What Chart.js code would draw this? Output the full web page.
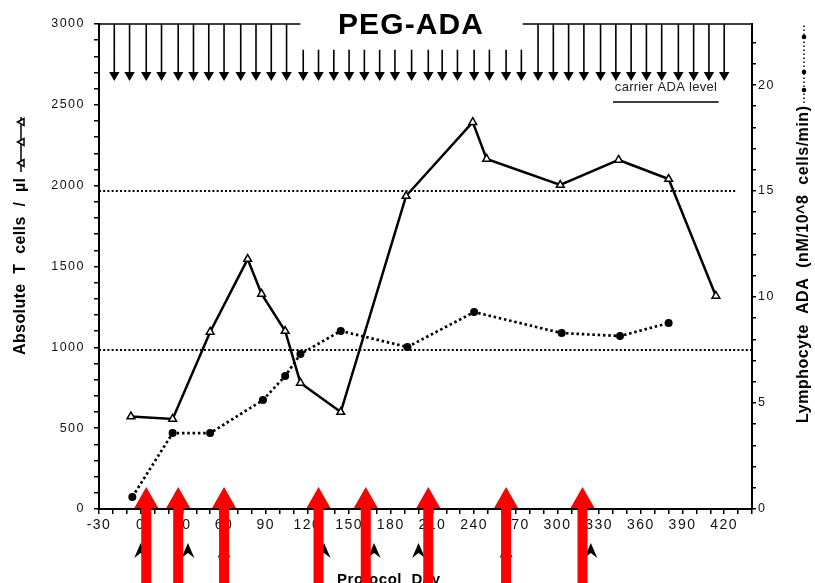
<!DOCTYPE html>
<html><head><meta charset="utf-8">
<script src="https://cdn.jsdelivr.net/npm/chart.js@4/dist/chart.umd.min.js"></script>
<style>html,body{margin:0;padding:0;background:#fff;overflow:hidden}</style>
</head><body>
<canvas id="c" width="815" height="583"></canvas>
<script>
// ---------- data ----------
const tcellDays   = [-7, 23, 50, 77, 87, 104, 115, 144, 191, 239, 249, 302, 344, 380, 414];
const tcellCounts = [572, 557, 1095, 1546, 1330, 1101, 780, 600, 1936, 2393, 2165, 2004, 2159, 2041, 1318];
const adaDays     = [-6, 23, 50, 88, 104, 115, 144, 192, 240, 303, 345, 380];
const adaLevels   = [0.57, 3.58, 3.58, 5.14, 6.27, 7.31, 8.40, 7.64, 9.29, 8.30, 8.16, 8.77];
const normalRangeLevels = [15, 7.5];
const normalRangeEnds   = [429, 440];
const carrierLevel = 19.2;
const carrierRange = [340, 416];
const longArrowDaysA = [-19, -8, 4, 15, 27, 38, 49, 60, 72, 83, 94, 105];
const shortArrowDays = [117, 128, 139, 150, 161, 172, 183, 195, 207, 217, 228, 240, 251, 263, 274];
const longArrowDaysB = [286, 297, 308, 319, 331, 342, 353, 364, 375, 387, 398, 409, 420];
const injectionPhases = [[-30, 115], [275, 440]];
const redArrowDays = [4, 27, 60, 128, 162, 207, 263, 318];
const caretDays    = [0, 34, 60, 132, 168, 200, 263, 324];
const xTickValues     = [-30, 0, 30, 60, 90, 120, 150, 180, 210, 240, 270, 300, 330, 360, 390, 420];
const leftTickValues  = [0, 500, 1000, 1500, 2000, 2500, 3000];
const rightTickValues = [0, 5, 10, 15, 20];
const titleText  = 'PEG-ADA';
const leftTitle  = 'Absolute  T  cells  /  µl';
const rightTitle = 'Lymphocyte  ADA  (nM/10^8  cells/min)';
const xTitle     = 'Protocol  Day';
const carrierText = 'carrier ADA level';

// ---------- build library data ----------
const LONG_TOP = 3000, SHORT_TOP = 2840, HEAD_VAL = 2684;
const shaftData = [];
[...longArrowDaysA, ...longArrowDaysB].forEach(d => shaftData.push({x:d,y:LONG_TOP},{x:d,y:HEAD_VAL},{x:d,y:null}));
shortArrowDays.forEach(d => shaftData.push({x:d,y:SHORT_TOP},{x:d,y:HEAD_VAL},{x:d,y:null}));
const headData = [...longArrowDaysA, ...shortArrowDays, ...longArrowDaysB].map(d => ({x:d, y:HEAD_VAL}));
const phaseData = [];
injectionPhases.forEach(([a,b]) => phaseData.push({x:a,y:LONG_TOP},{x:b,y:LONG_TOP},{x:b,y:null}));

const FONT = "'Liberation Sans', Arial, sans-serif";

function fitText(ctx, text, width) {
  ctx.letterSpacing = '0px';
  const w = ctx.measureText(text).width;
  const sp = (width - w) / Math.max(1, text.length - 1);
  ctx.letterSpacing = sp + 'px';
}

const overlay = {
  id: 'overlay',
  beforeDraw(chart) { chart.ctx.letterSpacing = '1.5px'; },
  afterDraw(chart) {
    const ctx = chart.ctx, xs = chart.scales.x, y2 = chart.scales.y2, area = chart.chartArea;
    ctx.save();
    ctx.fillStyle = '#000'; ctx.strokeStyle = '#000';
    // title
    ctx.font = 'bold 30px ' + FONT; ctx.textAlign = 'left'; ctx.textBaseline = 'alphabetic';
    fitText(ctx, titleText, 145);
    ctx.fillText(titleText, 338, 34);
    // carrier ADA level label
    const cx = (xs.getPixelForValue(carrierRange[0]) + xs.getPixelForValue(carrierRange[1])) / 2;
    const cy = y2.getPixelForValue(carrierLevel);
    ctx.font = '13px ' + FONT; ctx.fillStyle = '#222';
    fitText(ctx, carrierText, 102);
    ctx.fillText(carrierText, cx - 51, cy - 11);
    ctx.fillStyle = '#000';
    // left title
    ctx.save();
    ctx.translate(21, 355); ctx.rotate(-Math.PI/2);
    ctx.font = 'bold 16px ' + FONT; ctx.textBaseline = 'middle';
    fitText(ctx, leftTitle, 177);
    ctx.fillText(leftTitle, 0, 0);
    ctx.lineWidth = 1.5;
    ctx.beginPath(); ctx.moveTo(183, 0); ctx.lineTo(238, 0); ctx.stroke();
    [192, 213, 233].forEach(u => {
      ctx.beginPath(); ctx.moveTo(u, -3.5); ctx.lineTo(u + 3.5, 3); ctx.lineTo(u - 3.5, 3); ctx.closePath();
      ctx.fillStyle = '#fff'; ctx.fill(); ctx.stroke();
    });
    ctx.restore();
    // right title
    ctx.save();
    ctx.translate(804, 423); ctx.rotate(-Math.PI/2);
    ctx.font = 'bold 16px ' + FONT; ctx.textBaseline = 'middle'; ctx.fillStyle = '#000';
    fitText(ctx, rightTitle, 317);
    ctx.fillText(rightTitle, 0, 0);
    ctx.lineWidth = 1.5; ctx.setLineDash([1.5, 2.5]);
    ctx.beginPath(); ctx.moveTo(320, 0); ctx.lineTo(399, 0); ctx.stroke();
    ctx.setLineDash([]);
    [333, 351, 386].forEach(u => { ctx.beginPath(); ctx.arc(u, 0, 2.3, 0, Math.PI*2); ctx.fill(); });
    ctx.restore();
    // x title
    ctx.font = 'bold 15px ' + FONT; ctx.textAlign = 'left'; ctx.textBaseline = 'top';
    fitText(ctx, xTitle, 103);
    ctx.fillText(xTitle, 337, 572);
    ctx.letterSpacing = '0px';
    // black carets under the axis
    caretDays.forEach(d => {
      const x = xs.getPixelForValue(d);
      ctx.beginPath();
      ctx.moveTo(x, 543); ctx.lineTo(x + 6.5, 558); ctx.lineTo(x, 553); ctx.lineTo(x - 6.5, 558); ctx.closePath();
      ctx.fill();
    });
    // red arrows
    ctx.fillStyle = '#ff0000';
    redArrowDays.forEach(d => {
      const x = xs.getPixelForValue(d);
      const tip = area.bottom - 22, base = area.bottom - 1;
      ctx.fillRect(x - 5, base - 1, 10, chart.height - base + 1);
      ctx.beginPath(); ctx.moveTo(x, tip); ctx.lineTo(x + 12, base); ctx.lineTo(x - 12, base); ctx.closePath(); ctx.fill();
    });
    ctx.restore();
  }
};

const tickFont = { family: FONT, size: 12.5 };
const axisGrid = { drawOnChartArea: false, color: '#000', tickColor: '#000', tickLength: 5, tickWidth: 1.5, lineWidth: 1.5 };

new Chart(document.getElementById('c'), {
  data: {
    datasets: [
      { type: 'line', label: 'Absolute T cells', yAxisID: 'y',
        data: tcellDays.map((d,i) => ({x:d, y:tcellCounts[i]})),
        borderColor: '#000', borderWidth: 2.5, pointStyle: 'triangle', pointRadius: 4.5,
        pointBackgroundColor: '#fff', pointBorderColor: '#000', pointBorderWidth: 1.5, tension: 0 },
      { type: 'line', label: 'Lymphocyte ADA', yAxisID: 'y2',
        data: adaDays.map((d,i) => ({x:d, y:adaLevels[i]})),
        borderColor: '#000', borderWidth: 2.7, borderDash: [2.5, 2.8], pointStyle: 'circle', pointRadius: 4,
        pointBackgroundColor: '#000', pointBorderColor: '#000', pointBorderWidth: 0, tension: 0 },
      ...normalRangeLevels.map((v,i) => ({ type: 'line', label: 'normal ' + v, yAxisID: 'y2',
        data: [{x:-30, y:v}, {x:normalRangeEnds[i], y:v}],
        borderColor: '#000', borderWidth: 2, borderDash: [2, 2.2], pointRadius: 0 })),
      { type: 'line', label: 'carrier ADA level', yAxisID: 'y2',
        data: [{x:carrierRange[0], y:carrierLevel}, {x:carrierRange[1], y:carrierLevel}],
        borderColor: '#000', borderWidth: 1.5, pointRadius: 0 },
      { type: 'line', label: 'injection shafts', yAxisID: 'y', data: shaftData, clip: false,
        borderColor: '#000', borderWidth: 1.6, pointRadius: 0, spanGaps: false },
      { type: 'line', label: 'injection phases', yAxisID: 'y', data: phaseData, clip: false,
        borderColor: '#000', borderWidth: 1.5, pointRadius: 0, spanGaps: false },
      { type: 'scatter', label: 'injection heads', yAxisID: 'y', data: headData, clip: false,
        pointStyle: 'triangle', rotation: 180, pointRadius: 6,
        pointBackgroundColor: '#000', pointBorderColor: '#000', pointBorderWidth: 0 }
    ]
  },
  options: {
    responsive: false, animation: false, events: [],
    layout: { padding: { top: 24, left: 0, right: 0, bottom: 0 } },
    plugins: { legend: { display: false }, tooltip: { enabled: false }, title: { display: false } },
    scales: {
      x: { type: 'linear', position: 'bottom', min: -30, max: 440,
        ticks: { stepSize: 10, autoSkip: false, maxRotation: 0, color: '#111', padding: 3,
                 font: { family: FONT, size: 14 },
                 callback: v => xTickValues.includes(v) ? String(v) : '' },
        grid: axisGrid, border: { color: '#000', width: 2 },
        afterFit: s => { s.height = 74; } },
      y: { type: 'linear', position: 'left', min: 0, max: 3000,
        ticks: { stepSize: 100, autoSkip: false, color: '#111', padding: 9, font: tickFont,
                 callback: v => leftTickValues.includes(v) ? String(v) : '' },
        grid: axisGrid, border: { color: '#000', width: 2 },
        afterFit: s => { s.width = 99; } },
      y2: { type: 'linear', position: 'right', min: 0, max: 22.88,
        ticks: { stepSize: 1, autoSkip: false, color: '#111', padding: 2, font: tickFont,
                 callback: v => rightTickValues.includes(v) ? String(v) : '' },
        afterBuildTicks: s => { s.ticks = s.ticks.filter(t => Number.isInteger(t.value)); },
        grid: { ...axisGrid, tickLength: 4 }, border: { color: '#000', width: 2 },
        afterFit: s => { s.width = 63; } }
    }
  },
  plugins: [overlay]
});
</script>
</body></html>
